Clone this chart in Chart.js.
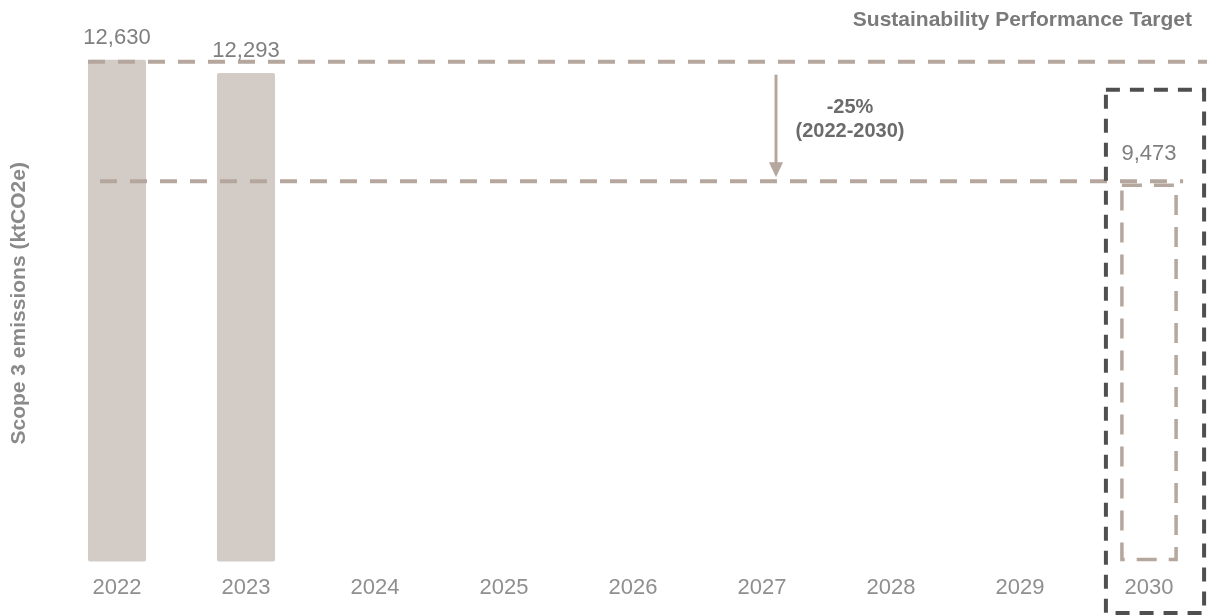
<!DOCTYPE html>
<html>
<head>
<meta charset="utf-8">
<script src="https://cdn.jsdelivr.net/npm/chart.js@4.4.1/dist/chart.umd.min.js"></script>
<style>
html, body { margin: 0; padding: 0; background: #fff; }
#wrap { width: 1207px; height: 615px; position: relative; }
</style>
</head>
<body>
<div id="wrap"><canvas id="emissionsChart"></canvas></div>
<script>
// chart data
const years = ["2022", "2023", "2024", "2025", "2026", "2027", "2028", "2029", "2030"];
const actualEmissions = [12630, 12293, null, null, null, null, null, null, null];
const targetEmissions = [null, null, null, null, null, null, null, null, 9473];
const baselineValue = 12630;
const targetValue = 9473;
const reductionLines = ["-25%", "(2022-2030)"];
const yAxisTitle = "Scope 3 emissions (ktCO2e)";
const headerText = "Sustainability Performance Target";

const FONT = "'Liberation Sans', Arial, sans-serif";
const TAUPE = "#b5a79d";
const BAR_FILL = "#d3cbc6";
const DARK = "#4f4f4f";

function fmt(v) {
    return v.toLocaleString("en-US");
}

function drawLine(ctx, x1, y1, x2, y2) {
    ctx.beginPath();
    ctx.moveTo(x1, y1);
    ctx.lineTo(x2, y2);
    ctx.stroke();
}

const annotations = {
    id: "annotations",
    afterDatasetsDraw(chart) {
        const ctx = chart.ctx;
        const xScale = chart.scales.x;
        const yScale = chart.scales.y;
        const bars = chart.getDatasetMeta(0).data;
        const targetBar = chart.getDatasetMeta(1).data[years.length - 1];

        const firstLeft = bars[0].x - bars[0].width / 2;
        const tLeft = targetBar.x - targetBar.width / 2;
        const tRight = targetBar.x + targetBar.width / 2;
        const yBase = yScale.getPixelForValue(baselineValue);
        const yTarget = yScale.getPixelForValue(targetValue);

        ctx.save();

        // dashed target bar
        ctx.strokeStyle = TAUPE;
        ctx.lineWidth = 3.5;
        ctx.setLineDash([20, 12]);
        ctx.strokeRect(tLeft, targetBar.y, tRight - tLeft, targetBar.base - 2 - targetBar.y);

        // reference lines
        ctx.lineWidth = 4;
        ctx.setLineDash([17, 13]);
        drawLine(ctx, firstLeft, yBase + 2, chart.width, yBase + 2);
        drawLine(ctx, firstLeft + 12, yTarget - 4, tRight + 7, yTarget - 4);

        // dark box round 2030
        ctx.strokeStyle = DARK;
        ctx.lineWidth = 4;
        ctx.setLineDash([14, 10]);
        ctx.strokeRect(tLeft - 16, yBase + 30, tRight - tLeft + 44, chart.height - yBase - 32);

        // arrow
        const ax = xScale.getPixelForValue(5) + 14;
        const aTop = yBase + 15;
        const aTip = yTarget - 8;
        ctx.setLineDash([]);
        ctx.strokeStyle = TAUPE;
        ctx.fillStyle = TAUPE;
        ctx.lineWidth = 3;
        drawLine(ctx, ax, aTop, ax, aTip - 12);
        ctx.beginPath();
        ctx.moveTo(ax - 7, aTip - 15);
        ctx.lineTo(ax + 7, aTip - 15);
        ctx.lineTo(ax, aTip);
        ctx.closePath();
        ctx.fill();

        // reduction text
        ctx.fillStyle = "#6b6b6b";
        ctx.font = "bold 20px " + FONT;
        ctx.textAlign = "center";
        ctx.textBaseline = "middle";
        ctx.fillText(reductionLines[0], ax + 74, yBase + 48);
        ctx.fillText(reductionLines[1], ax + 74, yBase + 72);

        // value labels
        ctx.fillStyle = "#7f7f7f";
        ctx.font = "22px " + FONT;
        bars.forEach((bar, i) => {
            if (actualEmissions[i] == null) return;
            ctx.fillText(fmt(actualEmissions[i]), bar.x, bar.y - 22);
        });
        ctx.fillText(fmt(targetEmissions[years.length - 1]), targetBar.x, targetBar.y - 31);

        // header
        ctx.fillStyle = "#7a7a7a";
        ctx.font = "bold 21px " + FONT;
        ctx.textAlign = "right";
        ctx.fillText(headerText, chart.width - 15, 20);

        ctx.restore();
    },
};

const ctx = document.getElementById("emissionsChart").getContext("2d");
new Chart(ctx, {
    type: "bar",
    data: {
        labels: years,
        datasets: [
            {
                label: "Actual",
                data: actualEmissions,
                backgroundColor: BAR_FILL,
                borderRadius: 2,
                borderSkipped: false,
                categoryPercentage: 1,
                barPercentage: 0.45,
                grouped: false,
                clip: false,
            },
            {
                label: "Target",
                data: targetEmissions,
                backgroundColor: "rgba(0,0,0,0)",
                borderWidth: 0,
                categoryPercentage: 1,
                barPercentage: 0.42,
                grouped: false,
                clip: false,
            },
        ],
    },
    options: {
        responsive: true,
        maintainAspectRatio: false,
        animation: false,
        events: [],
        layout: {
            padding: { top: 45, right: 58, bottom: 1, left: 5 },
        },
        plugins: {
            legend: { display: false },
            tooltip: { enabled: false },
        },
        scales: {
            x: {
                offset: false,
                grid: { display: false, drawTicks: false },
                border: { display: false },
                ticks: {
                    color: "#8f8f8f",
                    padding: 13,
                    maxRotation: 0,
                    font: { family: FONT, size: 22 },
                },
            },
            y: {
                min: 0,
                max: 13000,
                grid: { display: false, drawTicks: false },
                border: { display: false },
                ticks: { display: false },
                title: {
                    display: true,
                    text: yAxisTitle,
                    color: "#8a8a8a",
                    font: { family: FONT, size: 21, weight: "bold" },
                    padding: { top: 2, bottom: 4 },
                },
                afterFit(scale) {
                    scale.width = 112;
                },
            },
        },
    },
    plugins: [annotations],
});
</script>
</body>
</html>
